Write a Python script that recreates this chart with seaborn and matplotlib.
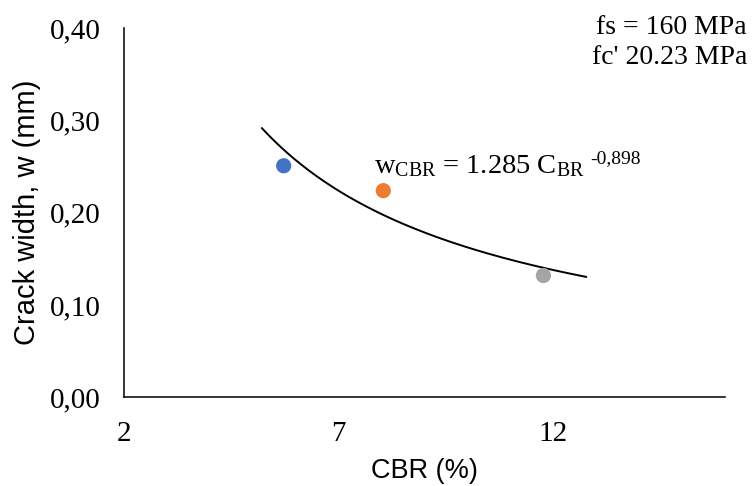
import matplotlib
matplotlib.use("Agg")
import matplotlib.pyplot as plt
import seaborn as sns
import numpy as np
import pandas as pd
from matplotlib.ticker import FixedLocator, FuncFormatter

# ---- data ----
cbr = [5.72, 8.04, 11.77]
crack_width = [0.251, 0.224, 0.132]
point_ids = ["A", "B", "C"]
point_colors = ["#4472C4", "#ED7D31", "#A5A5A5"]

# power trendline shown on the chart: w = 1.285 * CBR^-0.898
trend_a = 1.285
trend_b = -0.898
trend_x_start = 5.21
trend_x_end = 12.77

x_ticks = [2, 7, 12]
y_ticks = [0.0, 0.1, 0.2, 0.3, 0.4]

sns.set_theme(style="white")
plt.rcParams["font.family"] = ["Liberation Serif", "DejaVu Serif"]
plt.rcParams["mathtext.fontset"] = "custom"
plt.rcParams["mathtext.rm"] = "Liberation Serif"
plt.rcParams["mathtext.it"] = "Liberation Serif:italic"
plt.rcParams["text.color"] = "black"
plt.rcParams["axes.labelcolor"] = "black"

df = pd.DataFrame({"cbr": cbr, "w": crack_width, "id": point_ids})
tx = np.linspace(trend_x_start, trend_x_end, 200)
trend = pd.DataFrame({"cbr": tx, "w": trend_a * tx ** trend_b})

fig = plt.figure(figsize=(7.53, 4.86), dpi=100)
ax = fig.add_axes([124 / 753, 1 - 397.3 / 486, (725 - 124) / 753, (397.3 - 28.3) / 486])

sns.lineplot(data=trend, x="cbr", y="w", ax=ax, color="black", linewidth=1.4)
sns.scatterplot(data=df, x="cbr", y="w", hue="id", palette=point_colors, ax=ax,
                s=120, edgecolor="none", legend=False, zorder=3)

ax.set_xlim(2, 16)
ax.set_ylim(0, 0.4)
ax.xaxis.set_major_locator(FixedLocator(x_ticks))
ax.yaxis.set_major_locator(FixedLocator(y_ticks))
ax.xaxis.set_major_formatter(FuncFormatter(lambda v, p: f"{v:g}"))
ax.yaxis.set_major_formatter(FuncFormatter(lambda v, p: f"{v:.2f}".replace(".", ",")))
ax.tick_params(axis="both", length=0, labelsize=21, colors="black")
ax.tick_params(axis="y", pad=17)
ax.tick_params(axis="x", pad=17)

for side in ["top", "right"]:
    ax.spines[side].set_visible(False)
for side in ["left", "bottom"]:
    ax.spines[side].set_color("black")
    ax.spines[side].set_linewidth(1.1)

ax.set_xlabel("CBR (%)", fontsize=19.5, family=["Liberation Sans", "DejaVu Sans"],
              labelpad=8, color="black")
ax.set_ylabel("Crack width, w (mm)", fontsize=21, family=["Liberation Sans", "DejaVu Sans"],
              labelpad=6, color="black")

eq = ax.text(7.82, 0.243,
             r"w$_{\mathrm{CBR}}$ = 1.285 C$_{\mathrm{BR}}$",
             fontsize=20.5, ha="left", va="baseline", color="black")
ax.annotate("-0,898", xy=(1, 1), xycoords=eq, xytext=(4, 2), textcoords="offset points",
            fontsize=14, ha="left", va="top", color="black")

fig.text(747 / 753, 1 - 27 / 486, "fs = 160 MPa", fontsize=20, ha="right", va="center", color="black")
fig.text(747 / 753, 1 - 58 / 486, "fc' 20.23 MPa", fontsize=20, ha="right", va="center", color="black")

fig.savefig("out.png", dpi=100, facecolor="white")
